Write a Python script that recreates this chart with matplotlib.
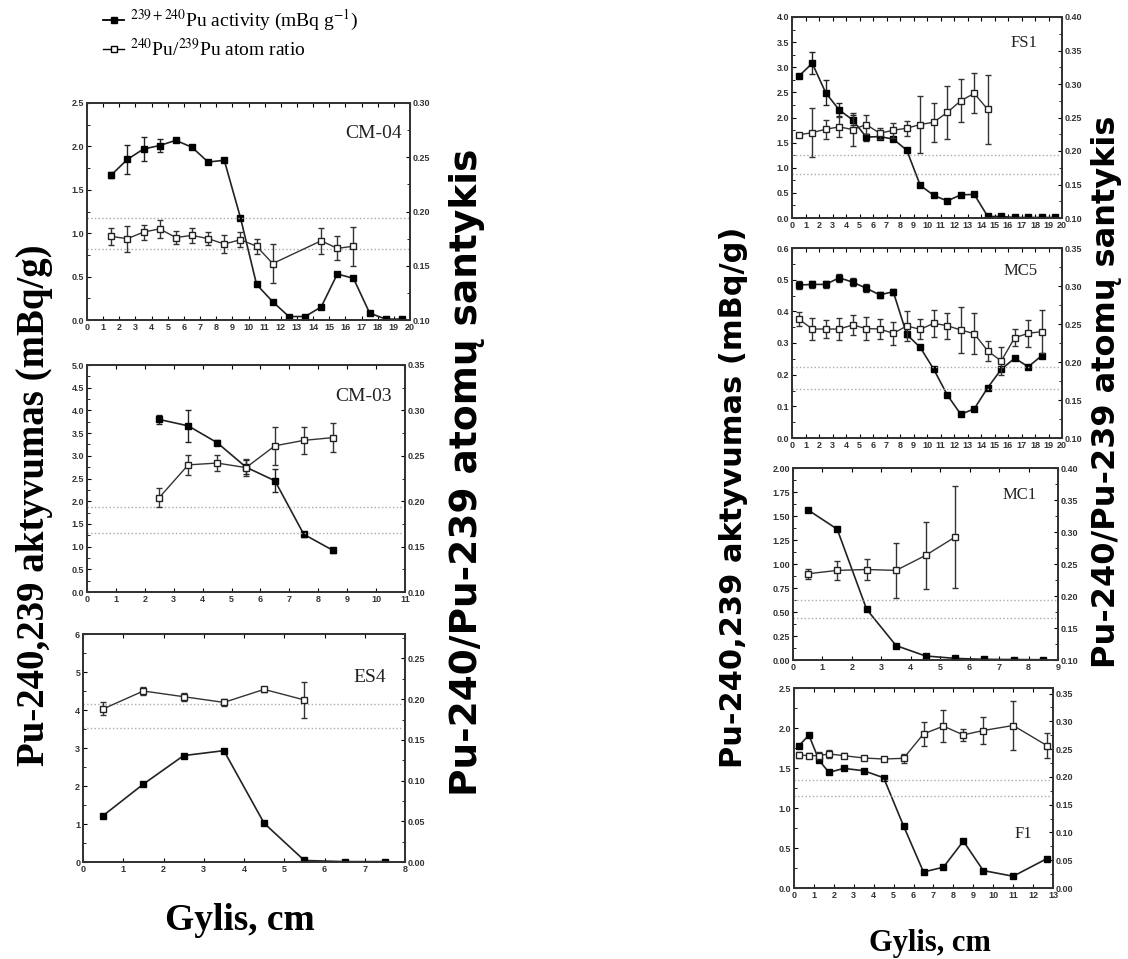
import matplotlib
matplotlib.use("Agg")
import matplotlib.pyplot as plt
import numpy as np
from matplotlib.lines import Line2D
from matplotlib.ticker import MultipleLocator, AutoMinorLocator, FormatStrFormatter

plt.rcParams['font.family'] = ['Liberation Sans', 'DejaVu Sans']
plt.rcParams['mathtext.fontset'] = 'stix'

W, H = 1128, 959

# ---- data ----
# CM-04
cm04_x = [1.5, 2.5, 3.5, 4.5, 5.5, 6.5, 7.5, 8.5, 9.5, 10.5, 11.5, 12.5, 13.5, 14.5, 15.5, 16.5, 17.5, 18.5, 19.5]
cm04_act = [1.67, 1.85, 1.97, 2.01, 2.07, 1.99, 1.82, 1.84, 1.18, 0.41, 0.21, 0.04, 0.04, 0.15, 0.53, 0.48, 0.08, 0.01, 0.01]
cm04_act_err = [0.03, 0.17, 0.14, 0.07, 0.02, 0.02, 0.02, 0.02, 0.02, 0.02, 0.02, 0.02, 0.02, 0.02, 0.02, 0.02, 0.02, 0.01, 0.01]
cm04_rx = [1.5, 2.5, 3.5, 4.5, 5.5, 6.5, 7.5, 8.5, 9.5, 10.5, 11.5, 14.5, 15.5, 16.5]
cm04_ratio = [0.177, 0.175, 0.181, 0.184, 0.176, 0.178, 0.175, 0.170, 0.174, 0.168, 0.152, 0.173, 0.166, 0.168]
cm04_ratio_err = [0.008, 0.012, 0.007, 0.008, 0.006, 0.007, 0.006, 0.008, 0.007, 0.007, 0.018, 0.012, 0.011, 0.018]

# CM-03
cm03_x = [2.5, 3.5, 4.5, 5.5, 6.5, 7.5, 8.5]
cm03_act = [3.80, 3.66, 3.29, 2.75, 2.45, 1.27, 0.92]
cm03_act_err = [0.10, 0.35, 0.05, 0.15, 0.25, 0.05, 0.06]
cm03_ratio = [0.204, 0.240, 0.242, 0.237, 0.261, 0.267, 0.270]
cm03_ratio_err = [0.010, 0.011, 0.009, 0.009, 0.021, 0.015, 0.016]

# ES4
es4_x = [0.5, 1.5, 2.5, 3.5, 4.5, 5.5, 6.5, 7.5]
es4_act = [1.22, 2.05, 2.80, 2.93, 1.02, 0.04, 0.01, 0.01]
es4_rx = [0.5, 1.5, 2.5, 3.5, 4.5, 5.5]
es4_ratio = [0.188, 0.210, 0.203, 0.196, 0.212, 0.199]
es4_ratio_err = [0.008, 0.005, 0.005, 0.004, 0.003, 0.022]

# FS1
fs1_x = [0.5, 1.5, 2.5, 3.5, 4.5, 5.5, 6.5, 7.5, 8.5, 9.5, 10.5, 11.5, 12.5, 13.5, 14.5, 15.5, 16.5, 17.5, 18.5, 19.5]
fs1_act = [2.82, 3.08, 2.49, 2.15, 1.95, 1.61, 1.62, 1.57, 1.35, 0.65, 0.45, 0.34, 0.46, 0.47, 0.03, 0.03, 0.01, 0.01, 0.01, 0.01]
fs1_act_err = [0.03, 0.22, 0.25, 0.13, 0.10, 0.07, 0.03, 0.03, 0.03, 0.02, 0.02, 0.02, 0.02, 0.02, 0.01, 0.01, 0.01, 0.01, 0.01, 0.01]
fs1_rx = [0.5, 1.5, 2.5, 3.5, 4.5, 5.5, 6.5, 7.5, 8.5, 9.5, 10.5, 11.5, 12.5, 13.5, 14.5]
fs1_ratio = [0.224, 0.2275, 0.2325, 0.236, 0.232, 0.2395, 0.2265, 0.231, 0.234, 0.2395, 0.243, 0.2575, 0.275, 0.286, 0.262]
fs1_ratio_err = [0.003, 0.036, 0.014, 0.015, 0.025, 0.014, 0.008, 0.011, 0.011, 0.043, 0.029, 0.040, 0.032, 0.030, 0.052]

# MC5
mc5_x = [0.5, 1.5, 2.5, 3.5, 4.5, 5.5, 6.5, 7.5, 8.5, 9.5, 10.5, 11.5, 12.5, 13.5, 14.5, 15.5, 16.5, 17.5, 18.5]
mc5_act = [0.483, 0.485, 0.485, 0.506, 0.492, 0.473, 0.452, 0.462, 0.327, 0.286, 0.217, 0.136, 0.075, 0.092, 0.159, 0.217, 0.252, 0.225, 0.260]
mc5_act_err = [0.012, 0.012, 0.010, 0.012, 0.012, 0.012, 0.010, 0.010, 0.008, 0.006, 0.005, 0.005, 0.004, 0.004, 0.005, 0.005, 0.006, 0.005, 0.006]
mc5_ratio = [0.2566, 0.2434, 0.2434, 0.2434, 0.2487, 0.244, 0.2434, 0.2377, 0.2474, 0.243, 0.2509, 0.2478, 0.2421, 0.2373, 0.2145, 0.2013, 0.232, 0.2377, 0.240]
mc5_ratio_err = [0.009, 0.015, 0.012, 0.015, 0.013, 0.015, 0.013, 0.015, 0.020, 0.013, 0.018, 0.017, 0.030, 0.027, 0.013, 0.018, 0.011, 0.018, 0.028]

# MC1
mc1_x = [0.5, 1.5, 2.5, 3.5, 4.5, 5.5, 6.5, 7.5, 8.5]
mc1_act = [1.565, 1.363, 0.529, 0.15, 0.042, 0.017, 0.007, 0.005, 0.003]
mc1_rx = [0.5, 1.5, 2.5, 3.5, 4.5, 5.5]
mc1_ratio = [0.2347, 0.240, 0.2414, 0.240, 0.2634, 0.292]
mc1_ratio_err = [0.008, 0.015, 0.016, 0.043, 0.052, 0.080]

# F1
f1_x = [0.25, 0.75, 1.25, 1.75, 2.5, 3.5, 4.5, 5.5, 6.5, 7.5, 8.5, 9.5, 11.0, 12.7]
f1_act = [1.78, 1.91, 1.60, 1.445, 1.495, 1.466, 1.378, 0.775, 0.20, 0.26, 0.586, 0.218, 0.147, 0.368]
f1_ratio = [0.2394, 0.2382, 0.2382, 0.2413, 0.2382, 0.234, 0.2322, 0.2334, 0.2774, 0.2913, 0.2756, 0.2835, 0.2925, 0.2563]
f1_ratio_err = [0.005, 0.004, 0.006, 0.008, 0.004, 0.004, 0.004, 0.008, 0.022, 0.029, 0.011, 0.024, 0.044, 0.022]

fallout_band = [0.165, 0.194]

# ---- panel layout (pixel boxes: left, top, right, bottom) ----
panels = [
    dict(name="CM-04", box=(87, 103, 410, 320), x=cm04_x, act=cm04_act, act_err=cm04_act_err,
         rx=cm04_rx, ratio=cm04_ratio, ratio_err=cm04_ratio_err,
         xlim=(0, 20), ylim=(0, 2.5), ystep=0.5, yfmt="%.1f", rlim=(0.10, 0.30), lab=(0.975, 0.86)),
    dict(name="CM-03", box=(87, 365, 405, 592), x=cm03_x, act=cm03_act, act_err=cm03_act_err,
         rx=cm03_x, ratio=cm03_ratio, ratio_err=cm03_ratio_err,
         xlim=(0, 11), ylim=(0, 5), ystep=0.5, yfmt="%.1f", rlim=(0.10, 0.35), lab=(0.96, 0.86)),
    dict(name="ES4", box=(83, 634, 405, 862), x=es4_x, act=es4_act, act_err=None,
         rx=es4_rx, ratio=es4_ratio, ratio_err=es4_ratio_err,
         xlim=(0, 8), ylim=(0, 6), ystep=1, yfmt="%d", rlim=(0.0, 0.28), rmax=0.25, lab=(0.94, 0.81)),
    dict(name="FS1", box=(792, 17, 1062, 218), x=fs1_x, act=fs1_act, act_err=fs1_act_err,
         rx=fs1_rx, ratio=fs1_ratio, ratio_err=fs1_ratio_err,
         xlim=(0, 20), ylim=(0, 4), ystep=0.5, yfmt="%.1f", rlim=(0.10, 0.40), lab=(0.91, 0.87)),
    dict(name="MC5", box=(792, 248, 1062, 438), x=mc5_x, act=mc5_act, act_err=mc5_act_err,
         rx=mc5_x, ratio=mc5_ratio, ratio_err=mc5_ratio_err,
         xlim=(0, 20), ylim=(0, 0.6), ystep=0.1, yfmt="%.1f", rlim=(0.10, 0.35), lab=(0.91, 0.88)),
    dict(name="MC1", box=(793, 468, 1058, 660), x=mc1_x, act=mc1_act, act_err=None,
         rx=mc1_rx, ratio=mc1_ratio, ratio_err=mc1_ratio_err,
         xlim=(0, 9), ylim=(0, 2.0), ystep=0.25, yfmt="%.2f", rlim=(0.10, 0.40), lab=(0.92, 0.86)),
    dict(name="F1", box=(794, 688, 1053, 888), x=f1_x, act=f1_act, act_err=None,
         rx=f1_x, ratio=f1_ratio, ratio_err=f1_ratio_err,
         xlim=(0, 13), ylim=(0, 2.5), ystep=0.5, yfmt="%.1f", rlim=(0.0, 0.36), rmax=0.35, lab=(0.92, 0.27)),
]


def rect(l, t, r, b):
    return [l / W, 1 - b / H, (r - l) / W, (b - t) / H]


fig = plt.figure(figsize=(W / 100, H / 100), dpi=100)
tick_kw = dict(labelsize=6.5, direction='in', width=0.8)

for p in panels:
    ax = fig.add_axes(rect(*p["box"]))
    ax2 = ax.twinx()
    ax.errorbar(p["x"], p["act"], yerr=p["act_err"], fmt='-s', color='#222222', mfc='black', mec='black',
                ms=5, lw=1.2, elinewidth=1.0, capsize=2, zorder=3)
    for v in fallout_band:
        ax2.axhline(v, color='#aaaaaa', ls=':', lw=1.0, zorder=1)
    ax2.errorbar(p["rx"], p["ratio"], yerr=p["ratio_err"], fmt='-s', color='#333333', mfc='white', mec='#222222',
                 ms=5, lw=1.0, elinewidth=1.0, capsize=2, zorder=4)
    ax.set_xlim(*p["xlim"])
    ax.set_ylim(*p["ylim"])
    ax2.set_ylim(*p["rlim"])
    ax.xaxis.set_major_locator(MultipleLocator(1))
    ax.yaxis.set_major_locator(MultipleLocator(p["ystep"]))
    ax.yaxis.set_minor_locator(AutoMinorLocator(2))
    ax.yaxis.set_major_formatter(FormatStrFormatter(p["yfmt"]))
    rmax = p.get("rmax", p["rlim"][1])
    rt = np.round(np.arange(p["rlim"][0], rmax + 1e-6, 0.05), 2)
    ax2.set_yticks(rt)
    ax2.yaxis.set_minor_locator(AutoMinorLocator(2))
    ax2.yaxis.set_major_formatter(FormatStrFormatter("%.2f"))
    ax.tick_params(axis='x', which='both', top=True, pad=2, length=3, **tick_kw)
    ax.tick_params(axis='y', which='major', pad=2, length=3, **tick_kw)
    ax.tick_params(axis='y', which='minor', direction='in', length=2)
    ax2.tick_params(axis='y', which='major', pad=2, length=3, **tick_kw)
    ax2.tick_params(axis='y', which='minor', direction='in', length=2)
    for lbl in ax.get_xticklabels() + ax.get_yticklabels() + ax2.get_yticklabels():
        lbl.set_fontweight('bold')
        lbl.set_color('#333333')
    for a in (ax, ax2):
        for s in a.spines.values():
            s.set_linewidth(1.3)
            s.set_color('#333333')
    fs = 14 if p["box"][0] < 400 else 12
    ax.text(p["lab"][0], p["lab"][1], p["name"], transform=ax.transAxes, ha='right', va='center',
            family='Liberation Serif', fontsize=fs, color='#222222')

# legend
handles = [
    Line2D([], [], color='black', marker='s', mfc='black', ms=5, lw=1.3),
    Line2D([], [], color='black', marker='s', mfc='white', ms=5, lw=1.0),
]
labels = [r"$^{239+240}$Pu activity (mBq g$^{-1}$)", r"$^{240}$Pu/$^{239}$Pu atom ratio"]
fig.legend(handles, labels, loc='upper left', bbox_to_anchor=(103 / W, 1 - 8 / H), frameon=False,
           prop=dict(family='Liberation Serif', size=14), handlelength=1.1, handletextpad=0.3,
           labelspacing=0.25, borderaxespad=0, borderpad=0)

# axis titles
fig.text(35 / W, 1 - 505 / H, "Pu-240,239 aktyvumas (mBq/g)", rotation=90, ha='center', va='center',
         family='Liberation Serif', fontweight='bold', fontsize=28)
fig.text(467 / W, 1 - 472 / H, "Pu-240/Pu-239 atomų santykis", rotation=90, ha='center', va='center',
         family='DejaVu Sans', fontweight='bold', fontsize=27)
fig.text(240 / W, 1 - 920 / H, "Gylis, cm", ha='center', va='center',
         family='Liberation Serif', fontweight='bold', fontsize=27)
fig.text(733 / W, 1 - 497 / H, "Pu-240,239 aktyvumas (mBq/g)", rotation=90, ha='center', va='center',
         family='DejaVu Sans', fontweight='bold', fontsize=22)
fig.text(1107 / W, 1 - 392 / H, "Pu-240/Pu-239 atomų santykis", rotation=90, ha='center', va='center',
         family='DejaVu Sans', fontweight='bold', fontsize=23)
fig.text(930 / W, 1 - 943 / H, "Gylis, cm", ha='center', va='center',
         family='Liberation Serif', fontweight='bold', fontsize=22)

fig.savefig("out.png", dpi=100, facecolor='white')
